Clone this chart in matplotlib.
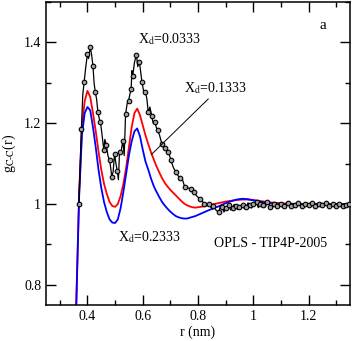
import matplotlib
matplotlib.use("Agg")
import matplotlib.pyplot as plt
from matplotlib.ticker import MultipleLocator

plt.rcParams['font.family'] = ['Liberation Serif', 'DejaVu Serif']
plt.rcParams['mathtext.fontset'] = 'stix'

# ---- data ----
red_r = [0.35, 0.36, 0.37, 0.38, 0.39, 0.40, 0.41, 0.42, 0.43, 0.44, 0.45, 0.46, 0.47, 0.48, 0.49,
         0.50, 0.51, 0.52, 0.53, 0.54, 0.55, 0.56, 0.57, 0.58, 0.59, 0.60, 0.61, 0.62, 0.63, 0.64,
         0.65, 0.66, 0.67, 0.68, 0.69, 0.70, 0.71, 0.72, 0.73, 0.74, 0.75, 0.76, 0.77, 0.78, 0.79,
         0.80, 0.82, 0.84, 0.86, 0.88, 0.90, 0.92, 0.94, 0.96, 0.98, 1.00, 1.02, 1.04, 1.06, 1.08,
         1.10, 1.12, 1.14, 1.16, 1.18, 1.20, 1.22, 1.24, 1.26, 1.28, 1.30, 1.32, 1.35]
red_g = [0.50, 0.77, 1.03, 1.19, 1.255, 1.28, 1.265, 1.225, 1.18, 1.13, 1.085, 1.05, 1.025, 1.005, 0.995,
         0.993, 1.00, 1.02, 1.05, 1.09, 1.14, 1.19, 1.225, 1.236, 1.22, 1.195, 1.17, 1.148, 1.128, 1.11,
         1.093, 1.078, 1.064, 1.052, 1.043, 1.035, 1.028, 1.021, 1.014, 1.007, 1.001, 0.997, 0.994, 0.992, 0.991,
         0.992, 0.994, 0.997, 1.000, 1.003, 1.006, 1.008, 1.010, 1.011, 1.011, 1.010, 1.008, 1.006, 1.004, 1.003,
         1.002, 1.001, 1.001, 1.000, 1.000, 1.001, 1.000, 0.999, 1.000, 1.000, 0.999, 1.000, 0.999]

blue_r = [0.35, 0.36, 0.37, 0.38, 0.39, 0.40, 0.41, 0.42, 0.43, 0.44, 0.45, 0.46, 0.47, 0.48, 0.49,
          0.50, 0.51, 0.52, 0.53, 0.54, 0.55, 0.56, 0.57, 0.58, 0.59, 0.60, 0.61, 0.62, 0.63, 0.64,
          0.65, 0.66, 0.67, 0.68, 0.69, 0.70, 0.71, 0.72, 0.73, 0.74, 0.75, 0.76, 0.77, 0.78, 0.79,
          0.80, 0.82, 0.84, 0.86, 0.88, 0.90, 0.92, 0.94, 0.96, 0.98, 1.00, 1.02, 1.04, 1.06, 1.08,
          1.10, 1.12, 1.14, 1.16, 1.18, 1.20, 1.22, 1.24, 1.26, 1.28, 1.30, 1.32, 1.35]
blue_g = [0.50, 0.76, 1.02, 1.17, 1.225, 1.24, 1.232, 1.19, 1.14, 1.085, 1.04, 1.005, 0.98, 0.962, 0.954,
          0.953, 0.962, 0.99, 1.03, 1.075, 1.12, 1.155, 1.18, 1.187, 1.168, 1.135, 1.105, 1.085, 1.063, 1.044,
          1.030, 1.017, 1.005, 0.996, 0.988, 0.981, 0.975, 0.970, 0.967, 0.965, 0.964, 0.964, 0.966, 0.968, 0.970,
          0.973, 0.979, 0.985, 0.990, 0.996, 1.002, 1.007, 1.011, 1.013, 1.012, 1.009, 1.006, 1.004, 1.002, 1.001,
          1.000, 0.999, 1.000, 1.000, 0.999, 1.000, 1.000, 1.001, 1.000, 0.999, 1.000, 1.000, 1.000]

# black curve (X_d = 0.0333): circle samples
black_r = [0.369, 0.378, 0.388, 0.400, 0.410, 0.420, 0.428, 0.438, 0.447, 0.459, 0.468, 0.480,
           0.488, 0.498, 0.508, 0.516, 0.528, 0.538, 0.549, 0.558, 0.564, 0.577, 0.588, 0.597,
           0.610, 0.620, 0.632, 0.644, 0.654, 0.669, 0.681, 0.692, 0.702, 0.720, 0.735, 0.752,
           0.773, 0.785, 0.806, 0.822, 0.840, 0.855, 0.875, 0.887, 0.900, 0.912, 0.925, 0.937,
           0.950, 0.962, 0.975, 0.987, 1.000, 1.012, 1.025, 1.037, 1.050, 1.062, 1.075, 1.087,
           1.100, 1.112, 1.125, 1.137, 1.150, 1.162, 1.175, 1.187, 1.200, 1.212, 1.225, 1.237,
           1.250, 1.262, 1.275, 1.287, 1.300, 1.312, 1.325, 1.337, 1.348]
black_g = [1.000, 1.186, 1.303, 1.371, 1.388, 1.341, 1.278, 1.227, 1.203, 1.134, 1.147, 1.108,
           1.068, 1.125, 1.082, 1.128, 1.157, 1.223, 1.256, 1.285, 1.318, 1.370, 1.352, 1.303,
           1.277, 1.227, 1.219, 1.203, 1.182, 1.149, 1.139, 1.128, 1.108, 1.079, 1.065, 1.042,
           1.038, 1.030, 1.013, 1.001, 1.001, 0.995, 0.980, 0.993, 0.990, 0.997, 0.990, 0.994,
           0.992, 0.997, 0.993, 0.998, 0.999, 1.004, 1.000, 0.997, 1.004, 0.993, 1.000, 0.996,
           1.000, 0.994, 1.002, 0.996, 0.997, 1.003, 0.995, 1.000, 0.997, 1.002, 0.996, 1.000,
           0.998, 1.003, 0.995, 0.999, 0.994, 1.000, 0.996, 0.998, 1.000]
# black curve: extra noisy line samples between circles
black_noise_r = [0.383, 0.394, 0.404, 0.415, 0.424, 0.433, 0.443, 0.453, 0.463, 0.474, 0.484,
                 0.493, 0.503, 0.512, 0.522, 0.533, 0.544, 0.553, 0.561, 0.570, 0.582, 0.592,
                 0.603, 0.615, 0.626, 0.638, 0.649, 0.661, 0.675, 0.687, 0.697, 0.711, 0.728,
                 0.744, 0.762, 0.779, 0.795, 0.814, 0.831, 0.848, 0.865, 0.881, 0.894, 0.906,
                 0.918, 0.931, 0.944, 0.956, 0.968, 0.981, 0.994, 1.006, 1.018, 1.031, 1.044,
                 1.056, 1.068, 1.081, 1.094, 1.106, 1.118, 1.131, 1.144, 1.156, 1.168, 1.181,
                 1.194, 1.206, 1.218, 1.231, 1.244, 1.256, 1.268, 1.281, 1.294, 1.306, 1.318,
                 1.331, 1.343]
black_noise_g = [1.27, 1.34, 1.36, 1.37, 1.30, 1.26, 1.21, 1.17, 1.16, 1.12, 1.09,
                 1.08, 1.10, 1.06, 1.13, 1.12, 1.25, 1.27, 1.33, 1.35, 1.34, 1.33,
                 1.28, 1.26, 1.24, 1.20, 1.19, 1.17, 1.14, 1.13, 1.12, 1.09, 1.07,
                 1.06, 1.04, 1.03, 1.02, 1.008, 0.998, 0.990, 0.985, 0.995, 0.980, 0.992,
                 0.985, 0.999, 0.986, 0.994, 0.988, 1.003, 0.990, 0.997, 0.991, 1.004, 0.993,
                 1.001, 0.989, 0.998, 0.992, 1.003, 0.990, 0.998, 1.000, 0.991, 0.999, 0.992,
                 1.002, 0.993, 0.999, 0.991, 1.001, 0.994, 0.999, 0.992, 1.001, 0.993, 0.998,
                 1.001, 0.994]

labels = ['X$_\\mathrm{d}$=0.0333', 'X$_\\mathrm{d}$=0.1333', 'X$_\\mathrm{d}$=0.2333']
panel_label = 'a'
model_label = 'OPLS - TIP4P-2005'

# ---- figure ----
fig = plt.figure(figsize=(3.54, 3.41), dpi=100)
ax = fig.add_axes([46/354, 36/341, 304/354, 303/341])

line_pts = sorted(zip(black_r + black_noise_r, black_g + black_noise_g))
ax.plot([p[0] for p in line_pts], [p[1] for p in line_pts], color='black', lw=0.9, zorder=3)
ax.plot(black_r, black_g, ls='none', marker='o', ms=3.3, mfc='#a0a0a0', mec='black',
        mew=0.8, zorder=4)
ax.plot(red_r, red_g, color='#ff0000', lw=1.3, zorder=2)
ax.plot(blue_r, blue_g, color='#0000ff', lw=1.3, zorder=2)

ax.set_xlim(0.25, 1.35)
ax.set_ylim(0.75, 1.5)
ax.xaxis.set_major_locator(MultipleLocator(0.2))
ax.xaxis.set_minor_locator(MultipleLocator(0.1))
ax.yaxis.set_major_locator(MultipleLocator(0.2))
ax.yaxis.set_minor_locator(MultipleLocator(0.1))
ax.set_xticks([0.4, 0.6, 0.8, 1.0, 1.2])
ax.set_xticklabels(['0.4', '0.6', '0.8', '1', '1.2'])
ax.set_yticks([0.8, 1.0, 1.2, 1.4])
ax.set_yticklabels(['0.8', '1', '1.2', '1.4'])
ax.tick_params(which='both', direction='in', top=True, right=True, labelsize=10, width=1.0)
ax.tick_params(which='major', length=7)
ax.tick_params(which='minor', length=3.6)
for s in ax.spines.values():
    s.set_linewidth(1.1)

ax.set_xlabel('r (nm)', fontsize=10, labelpad=2)
ax.set_ylabel('g$_\\mathrm{C\\text{-}C}$(r)', fontsize=10, labelpad=4)

ax.text(0.582, 1.409, labels[0], fontsize=10, va='center', ha='left')
ax.text(0.750, 1.286, labels[1], fontsize=10, va='center', ha='left')
ax.text(0.510, 0.918, labels[2], fontsize=10, va='center', ha='left')
ax.text(0.857, 0.903, model_label, fontsize=10, va='center', ha='left')
ax.text(1.241, 1.441, panel_label, fontsize=11, va='center', ha='left')
ax.plot([0.632, 0.837], [1.123, 1.260], color='black', lw=0.7, zorder=5)

fig.savefig('out.png', dpi=100)
